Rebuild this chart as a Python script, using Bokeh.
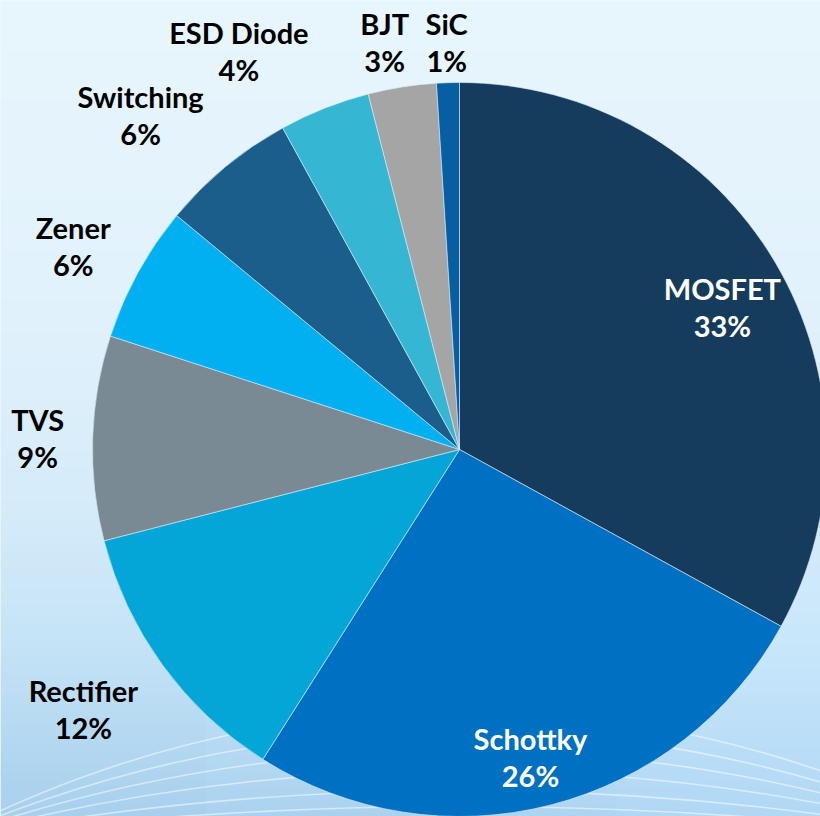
import numpy as np
from bokeh.plotting import figure
from bokeh.models import Range1d
from bokeh.core.properties import value
from bokeh.embed import file_html
from bokeh.resources import INLINE

# ---- data ----
categories = ["MOSFET", "Schottky", "Rectifier", "TVS", "Zener", "Switching", "ESD Diode", "BJT", "SiC"]
shares = [33, 26, 12, 9, 6, 6, 4, 3, 1]
colors = ["#163C5D", "#0070C2", "#03A6D7", "#798A94", "#00B0F0", "#1B5E8C", "#35B7D4", "#A5A5A5", "#055FA2"]
label_colors = ["white", "white", "black", "black", "black", "black", "black", "black", "black"]
# label placement styling: radius factor (of pie radius) and angle nudge in degrees
label_rf = [0.815, 0.86, 1.245, 1.15, 1.19, 1.26, 1.24, 1.13, 1.11]
label_nudge = [2.1, 1.4, 1.4, -0.2, -1.0, -4.0, -7.4, -1.4, 0.0]

W, H = 820, 816
p = figure(width=W, height=H, output_backend="svg", toolbar_location=None,
           x_range=Range1d(0, 820), y_range=Range1d(0, 816), min_border=0)
p.axis.visible = False
p.grid.visible = False
p.outline_line_color = None
p.background_fill_color = "#E6F4FC"
p.border_fill_color = "#E6F4FC"

# ---- background gradient ----
rows = 400
ref_y = 816 - np.linspace(0, 816, rows)
stops_y = [0, 300, 500, 640, 816]
stops_c = np.array([[232, 246, 253], [226, 242, 252], [214, 236, 250], [198, 228, 247], [168, 208, 237]], float)
img = np.zeros((rows, 4), dtype=np.uint32)
view = img.view(dtype=np.uint8).reshape((rows, 4, 4))
for j in range(4):
    shift = j / 3.0 * 8
    for c in range(3):
        col = np.interp(ref_y, stops_y, stops_c[:, c])
        col = col + shift * np.clip((ref_y - 500) / 316, 0, 1)
        view[:, j, c] = np.clip(col, 0, 255).astype(np.uint8)
    view[:, j, 3] = 255
p.image_rgba(image=[img], x=0, y=0, dw=820, dh=816)

# ---- decorative faint curves ----
tops = [710, 730, 750, 770, 790, 806]
for t in tops:
    d = 840 - t
    R = (270400 + d * d) / (2 * d)
    p.arc(x=460, y=816 - (t + R), radius=R, start_angle=0.2, end_angle=np.pi - 0.2,
          line_color="white", line_alpha=0.5, line_width=1.6)

# ---- pie ----
cx, cy, Rp = 459, 816 - 449, 367
total = float(sum(shares))
frac = np.array(shares) / total
cum_end = np.cumsum(frac)
cum_start = cum_end - frac
start = np.pi / 2 - 2 * np.pi * cum_end
end = np.pi / 2 - 2 * np.pi * cum_start
p.wedge(x=cx, y=cy, radius=Rp, start_angle=list(start), end_angle=list(end),
        fill_color=colors, line_color="#D8ECF8", line_width=0.6)

# ---- labels ----
mid = (cum_start + cum_end) / 2
theta = np.radians(360 * mid + np.array(label_nudge))
lx = cx + np.array(label_rf) * Rp * np.sin(theta)
ly = cy + np.array(label_rf) * Rp * np.cos(theta)
pcts = [f"{s}%" for s in shares]
font = value("Lato")
p.text(x=list(lx), y=list(ly + 18.5), text=categories, text_color=label_colors,
       text_font=font, text_font_size="29px", text_font_style="bold",
       text_align="center", text_baseline="middle")
p.text(x=list(lx), y=list(ly - 18.5), text=pcts, text_color=label_colors,
       text_font=font, text_font_size="29px", text_font_style="bold",
       text_align="center", text_baseline="middle")

open("out.html", "w").write(file_html(p, INLINE))
